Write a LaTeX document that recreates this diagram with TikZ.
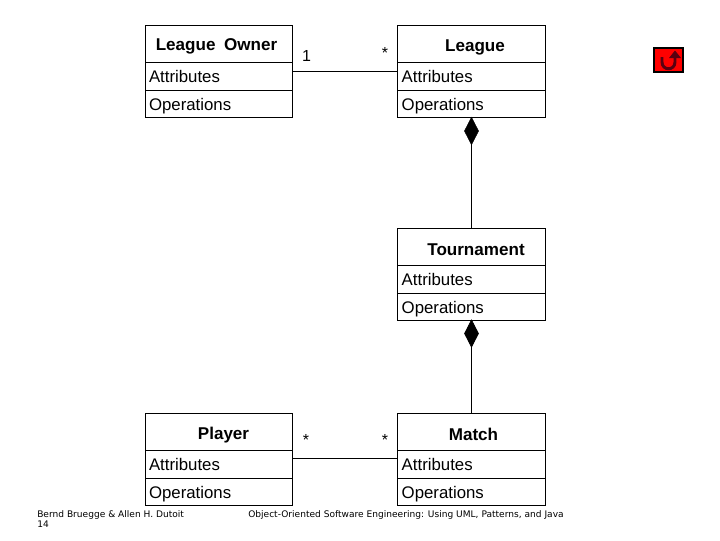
\documentclass[tikz,border=0pt]{standalone}
\usepackage{fontspec}
\setmainfont{Liberation Sans}
\newfontfamily\footfont{DejaVu Sans}
\usetikzlibrary{shapes.geometric}
\definecolor{iconmark}{RGB}{90,0,16}
\tikzset{
  x=0.75pt,y=-0.75pt,
  comp/.style={draw=black,line width=0.75pt,outer sep=0pt,minimum width=110.25pt,inner sep=0pt,anchor=north west,fill=white},
  wide/.style={minimum width=111.3pt},
  titlebox/.style={comp,minimum height=27.75pt},
  attrbox/.style={comp,minimum height=21pt,text width=105pt,align=left,font=\fontsize{12.6}{14}\selectfont},
  opbox/.style={comp,minimum height=20.25pt,text width=105pt,align=left,font=\fontsize{12.6}{14}\selectfont},
  titletext/.style={font=\fontsize{12.8}{14}\selectfont\bfseries,inner sep=0pt},
  mult/.style={font=\fontsize{12}{14}\selectfont,inner sep=0pt},
  link/.style={draw=black,line width=0.75pt},
  comppos/.style={draw=black,fill=black,diamond,inner sep=0pt,outer sep=0pt,minimum width=10.5pt,minimum height=20.5pt,aspect=0.5},
  foot/.style={font=\footfont\fontsize{6.8}{7.5}\selectfont,inner sep=0pt,anchor=west},
  icon/.style={draw=black,fill=red,line width=1.5pt,minimum width=22pt,minimum height=18.5pt,inner sep=0pt},
  iconline/.style={draw=iconmark,line width=2.2pt}
}
\newcommand{\oplabel}{\raisebox{-2pt}[9pt][3pt]{Operations}}
\begin{document}
\begin{tikzpicture}
\useasboundingbox (0,0) rectangle (720,540);
% League Owner
\node[titlebox] (loT) at (145.5,25.5) {};
\node[attrbox] (loA) at (145.5,62.5) {Attributes};
\node[opbox] (loO) at (145.5,90.5) {\oplabel};
\node[titletext] (loTx) at (216.5,46.5) {League\hspace{0.5em}Owner};
% League
\node[titlebox,wide] (lT) at (397.5,25.5) {};
\node[attrbox,wide] (lA) at (397.5,62.5) {Attributes};
\node[opbox,wide] (lO) at (397.5,90.5) {\oplabel};
\node[titletext] (lTx) at (475,47) {League};
% Tournament
\node[titlebox,wide] (tT) at (397.5,228.5) {};
\node[attrbox,wide] (tA) at (397.5,265.5) {Attributes};
\node[opbox,wide] (tO) at (397.5,293) {\oplabel};
\node[titletext] (tTx) at (476,249.5) {Tournament};
% Player
\node[titlebox] (pT) at (145.5,413.5) {};
\node[attrbox] (pA) at (145.5,450.5) {Attributes};
\node[opbox] (pO) at (145.5,478) {\oplabel};
\node[titletext] (pTx) at (223.5,435.5) {Player};
% Match
\node[titlebox,wide] (mT) at (397.5,413.5) {};
\node[attrbox,wide] (mA) at (397.5,450.5) {Attributes};
\node[opbox,wide] (mO) at (397.5,478) {\oplabel};
\node[titletext] (mTx) at (473.5,434.5) {Match};
% Diamonds
\node[comppos] (d1) at (471.5,131) {};
\node[comppos] (d2) at (471.5,333.5) {};
% Connectors
\draw[link] ([yshift=-6.5pt]loA.north east) -- ([yshift=-6.5pt]lA.north west);
\draw[link] ([yshift=-6pt]pA.north east) -- ([yshift=-6pt]mA.north west);
\draw[link] (d1.south) -- (d1.south |- tT.north);
\draw[link] (d2.south) -- (d2.south |- mT.north);
% Multiplicities
\node[mult] (m1) at (306.5,56) {1};
\node[mult] (m2) at (385,52.5) {*};
\node[mult] (m3) at (306,439.5) {*};
\node[mult] (m4) at (385,440) {*};
% Footer
\node[foot] (f1) at (37,514.5) {Bernd Bruegge \& Allen H. Dutoit};
\node[foot] (f2) at (37,524) {14};
\node[foot] (f3) at (248,514.5) {Object-Oriented Software Engineering: Using UML, Patterns, and Java};
% Icon
\node[icon] (ic) at (668.5,60) {};
\draw[iconline] (662,57) -- (662,62) .. controls (662,71) and (675,71) .. (675,62) -- (675,56);
\fill[iconmark] (675,50.5) -- (681,58) -- (669,58) -- cycle;
\end{tikzpicture}
\end{document}
